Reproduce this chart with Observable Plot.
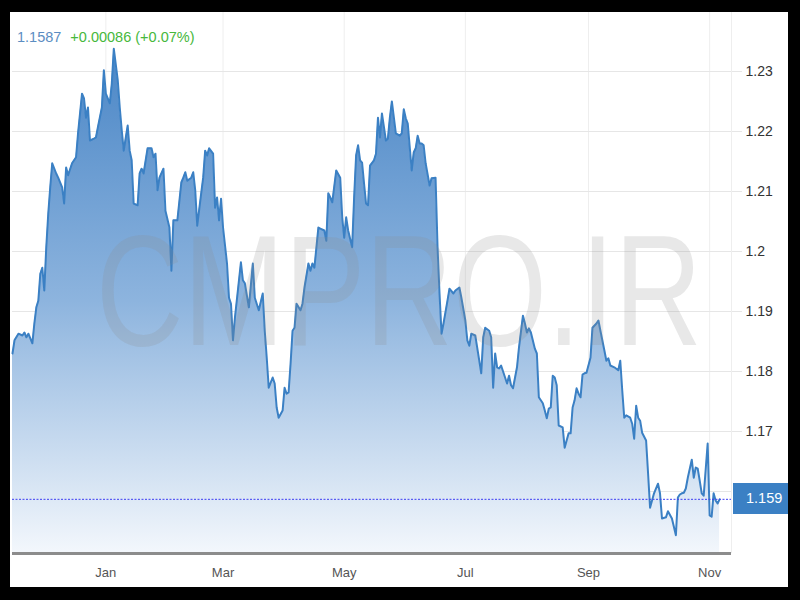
<!DOCTYPE html>
<html>
<head>
<meta charset="utf-8">
<script src="https://cdn.jsdelivr.net/npm/d3@7"></script>
<script src="https://cdn.jsdelivr.net/npm/@observablehq/plot@0.6"></script>
<style>
html, body { margin: 0; padding: 0; background: #000; }
#page { position: relative; width: 800px; height: 600px; background: #000; overflow: hidden; font-family: "Liberation Sans", Arial, sans-serif; }
#frame { position: absolute; left: 10px; top: 12px; width: 778px; height: 575px; background: #fff; overflow: hidden; }
#chart { position: absolute; left: 0; top: 0; }
#header { position: absolute; left: 7px; top: 16px; font-size: 14.5px; line-height: 18px; white-space: nowrap; }
#priceBox { position: absolute; left: 723px; width: 55px; height: 31px; background: #3b80c4; color: #fff; font-size: 14.5px; line-height: 31px; box-sizing: border-box; padding-left: 13px; }
#wm { position: absolute; left: 0; top: 0; pointer-events: none; }
</style>
</head>
<body>
<div id="page">
  <div id="frame">
    <div id="chart"></div>
    <svg id="wm" width="778" height="575"></svg>
    <div id="header"></div>
    <div id="priceBox"></div>
  </div>
</div>
<script>
// ---- data (EUR/USD, Nov 2020 – Nov 2021) ----
const dates = [
"2020-11-15","2020-11-16","2020-11-18","2020-11-20","2020-11-21","2020-11-22","2020-11-23","2020-11-25","2020-11-26","2020-11-27",
"2020-11-28","2020-11-29","2020-11-30","2020-12-01","2020-12-02","2020-12-03","2020-12-04","2020-12-05","2020-12-07","2020-12-08",
"2020-12-10","2020-12-11","2020-12-12","2020-12-13","2020-12-15","2020-12-17","2020-12-18","2020-12-20","2020-12-21","2020-12-22",
"2020-12-23","2020-12-24","2020-12-26","2020-12-27","2020-12-28","2020-12-30","2020-12-31","2021-01-01","2021-01-03","2021-01-04",
"2021-01-05","2021-01-07","2021-01-08","2021-01-09","2021-01-10","2021-01-12","2021-01-13","2021-01-14","2021-01-15","2021-01-17",
"2021-01-18","2021-01-19","2021-01-20","2021-01-22","2021-01-24","2021-01-25","2021-01-26","2021-01-27","2021-01-28","2021-01-30",
"2021-01-31","2021-02-02","2021-02-03","2021-02-04","2021-02-06","2021-02-08","2021-02-09","2021-02-10","2021-02-11","2021-02-13",
"2021-02-14","2021-02-15","2021-02-16","2021-02-18","2021-02-19","2021-02-20","2021-02-21","2021-02-22","2021-02-24","2021-02-25",
"2021-02-26","2021-02-27","2021-02-28","2021-03-01","2021-03-03","2021-03-04","2021-03-05","2021-03-06","2021-03-07","2021-03-10",
"2021-03-11","2021-03-12","2021-03-14","2021-03-16","2021-03-17","2021-03-19","2021-03-21","2021-03-22","2021-03-23","2021-03-24",
"2021-03-26","2021-03-27","2021-03-28","2021-03-29","2021-03-31","2021-04-01","2021-04-02","2021-04-03","2021-04-04","2021-04-05",
"2021-04-06","2021-04-07","2021-04-09","2021-04-10","2021-04-11","2021-04-13","2021-04-14","2021-04-15","2021-04-16","2021-04-18",
"2021-04-19","2021-04-21","2021-04-22","2021-04-23","2021-04-24","2021-04-25","2021-04-27","2021-04-29","2021-04-30","2021-05-01",
"2021-05-02","2021-05-03","2021-05-05","2021-05-06","2021-05-07","2021-05-08","2021-05-09","2021-05-10","2021-05-11","2021-05-12",
"2021-05-13","2021-05-14","2021-05-16","2021-05-17","2021-05-18","2021-05-19","2021-05-20","2021-05-22","2021-05-23","2021-05-24",
"2021-05-25","2021-05-27","2021-05-29","2021-05-30","2021-05-31","2021-06-01","2021-06-02","2021-06-04","2021-06-05","2021-06-06",
"2021-06-07","2021-06-08","2021-06-09","2021-06-10","2021-06-11","2021-06-13","2021-06-14","2021-06-16","2021-06-17","2021-06-18",
"2021-06-19","2021-06-20","2021-06-22","2021-06-23","2021-06-25","2021-06-26","2021-06-28","2021-06-29","2021-07-01","2021-07-02",
"2021-07-03","2021-07-04","2021-07-06","2021-07-08","2021-07-09","2021-07-10","2021-07-11","2021-07-13","2021-07-14","2021-07-15",
"2021-07-16","2021-07-17","2021-07-18","2021-07-19","2021-07-21","2021-07-22","2021-07-23","2021-07-24","2021-07-25","2021-07-27",
"2021-07-28","2021-07-30","2021-07-31","2021-08-01","2021-08-02","2021-08-03","2021-08-05","2021-08-06","2021-08-07","2021-08-09",
"2021-08-10","2021-08-11","2021-08-12","2021-08-13","2021-08-14","2021-08-15","2021-08-16","2021-08-17","2021-08-19","2021-08-20",
"2021-08-22","2021-08-23","2021-08-24","2021-08-25","2021-08-26","2021-08-27","2021-08-28","2021-08-29","2021-08-30","2021-08-31",
"2021-09-02","2021-09-03","2021-09-05","2021-09-06","2021-09-07","2021-09-09","2021-09-10","2021-09-11","2021-09-12","2021-09-14",
"2021-09-16","2021-09-17","2021-09-18","2021-09-19","2021-09-20","2021-09-22","2021-09-23","2021-09-24","2021-09-25","2021-09-26",
"2021-09-27","2021-09-28","2021-09-30","2021-10-01","2021-10-02","2021-10-04","2021-10-06","2021-10-07","2021-10-08","2021-10-10",
"2021-10-11","2021-10-13","2021-10-15","2021-10-16","2021-10-17","2021-10-18","2021-10-19","2021-10-20","2021-10-21","2021-10-23",
"2021-10-24","2021-10-25","2021-10-26","2021-10-27","2021-10-28","2021-10-29","2021-10-31","2021-11-01","2021-11-02","2021-11-03",
"2021-11-04","2021-11-05","2021-11-06"
];
const values = [
1.1830,1.1852,1.1863,1.1860,1.1865,1.1857,1.1863,1.1847,1.1880,1.1907,
1.1918,1.1963,1.1973,1.1935,1.2007,1.2063,1.2107,1.2147,1.2130,1.2123,
1.2107,1.2080,1.2140,1.2127,1.2147,1.2157,1.2197,1.2263,1.2255,1.2223,
1.2240,1.2185,1.2188,1.2190,1.2207,1.2240,1.2302,1.2263,1.2247,1.2280,
1.2338,1.2285,1.2240,1.2202,1.2168,1.2210,1.2168,1.2152,1.2080,1.2077,
1.2130,1.2138,1.2130,1.2172,1.2172,1.2157,1.2163,1.2102,1.2123,1.2138,
1.2068,1.2040,1.1968,1.2052,1.2052,1.2115,1.2123,1.2132,1.2118,1.2123,
1.2132,1.2102,1.2043,1.2097,1.2123,1.2168,1.2160,1.2172,1.2163,1.2073,
1.2090,1.2052,1.2088,1.2040,1.1980,1.1923,1.1913,1.1852,1.1890,1.1982,
1.1952,1.1947,1.1907,1.1980,1.1923,1.1902,1.1930,1.1868,1.1823,1.1773,
1.1790,1.1780,1.1740,1.1723,1.1735,1.1773,1.1763,1.1765,1.1813,1.1868,
1.1873,1.1913,1.1902,1.1913,1.1940,1.1980,1.1968,1.1980,1.1973,1.2040,
1.2038,1.2035,1.2018,1.2097,1.2090,1.2082,1.2135,1.2123,1.2057,1.2023,
1.2057,1.2035,1.2007,1.2090,1.2160,1.2177,1.2152,1.2148,1.2113,1.2080,
1.2077,1.2143,1.2152,1.2163,1.2223,1.2190,1.2230,1.2185,1.2188,1.2223,
1.2250,1.2197,1.2193,1.2197,1.2237,1.2222,1.2213,1.2135,1.2165,1.2172,
1.2193,1.2180,1.2180,1.2177,1.2147,1.2110,1.2122,1.2123,1.2007,1.1930,
1.1863,1.1880,1.1918,1.1938,1.1930,1.1935,1.1940,1.1923,1.1885,1.1852,
1.1843,1.1863,1.1860,1.1818,1.1797,1.1857,1.1873,1.1868,1.1857,1.1773,
1.1830,1.1807,1.1805,1.1810,1.1790,1.1780,1.1793,1.1777,1.1772,1.1807,
1.1840,1.1893,1.1880,1.1865,1.1872,1.1865,1.1838,1.1830,1.1757,1.1747,
1.1735,1.1722,1.1738,1.1740,1.1793,1.1790,1.1777,1.1710,1.1707,1.1673,
1.1697,1.1697,1.1740,1.1752,1.1772,1.1763,1.1757,1.1795,1.1797,1.1798,
1.1823,1.1873,1.1880,1.1885,1.1868,1.1835,1.1818,1.1822,1.1810,1.1807,
1.1802,1.1818,1.1768,1.1723,1.1727,1.1723,1.1713,1.1688,1.1743,1.1723,
1.1718,1.1698,1.1685,1.1630,1.1573,1.1597,1.1613,1.1597,1.1555,1.1557,
1.1567,1.1555,1.1527,1.1590,1.1595,1.1597,1.1598,1.1605,1.1623,1.1653,
1.1623,1.1640,1.1638,1.1618,1.1597,1.1593,1.1680,1.1560,1.1558,1.1597,
1.1585,1.1580,1.1587
];
const monthTicks = ["2021-01-01","2021-03-01","2021-05-01","2021-07-01","2021-09-01","2021-11-01"];
const yGridTicks = [1.16, 1.17, 1.18, 1.19, 1.20, 1.21, 1.22, 1.23];
const yLabelTicks = [1.17, 1.18, 1.19, 1.20, 1.21, 1.22, 1.23];
const xDomain = ["2020-11-15", "2021-11-12"];
const yDomain = [1.14967, 1.23983];
const lastPrice = 1.1587;
const lastPriceLabel = "1.159";
const headerPrice = "1.1587";
const headerChange = "+0.00086 (+0.07%)";
const watermarkText = "CMPRO.IR";

// ---- build ----
const parse = d3.utcParse("%Y-%m-%d");
const rows = dates.map((d, i) => ({date: parse(d), value: values[i]}));
const tickDates = monthTicks.map(parse);
const xDom = xDomain.map(parse);

function gradientDefs() {
  const ns = "http://www.w3.org/2000/svg";
  const defs = document.createElementNS(ns, "defs");
  defs.innerHTML =
    '<linearGradient id="areaGrad" x1="0" y1="0" x2="0" y2="1">' +
    '<stop offset="0" stop-color="#4a86c6"/>' +
    '<stop offset="0.5" stop-color="#8db4de"/>' +
    '<stop offset="1" stop-color="#f3f7fc"/>' +
    '</linearGradient>';
  return defs;
}

const chart = Plot.plot({
  width: 778,
  height: 575,
  marginLeft: 2,
  marginRight: 57,
  marginTop: 0,
  marginBottom: 34,
  x: {type: "utc", domain: xDom, label: null},
  y: {domain: yDomain, label: null},
  style: {fontFamily: "'Liberation Sans', Arial, sans-serif", fontSize: "13px", background: "transparent", overflow: "visible"},
  marks: [
    gradientDefs,
    Plot.gridX(tickDates, {stroke: "#eeeeee", strokeOpacity: 1}),
    Plot.ruleX([xDom[1]], {stroke: "#eeeeee"}),
    Plot.gridY(yGridTicks, {stroke: "#e6e6e6", strokeOpacity: 1}),
    Plot.areaY(rows, {x: "date", y1: yDomain[0], y2: "value", fill: "url(#areaGrad)"}),
    Plot.lineY(rows, {x: "date", y: "value", stroke: "#3b80c4", strokeWidth: 2, strokeLinejoin: "round"}),
    Plot.ruleY([lastPrice], {stroke: "#3d3df2", strokeWidth: 1, strokeDasharray: "2,1.5"}),
    Plot.ruleY([yDomain[0]], {stroke: "#8c8c8c", strokeWidth: 3}),
    Plot.axisX(tickDates, {label: null, tickSize: 0, tickPadding: 14, tickFormat: d3.utcFormat("%b"), fill: "#555", fontSize: 13}),
    Plot.axisY(yLabelTicks, {label: null, anchor: "right", tickSize: 10, tickPadding: 4, stroke: "#e6e6e6", fill: "#333", fontSize: 14,
      tickFormat: d => String(+d.toFixed(2))})
  ]
});
document.getElementById("chart").appendChild(chart);

// watermark (horizontally condensed via transform)
const wm = document.getElementById("wm");
const sx = 0.767;
wm.innerHTML = '<text transform="scale(' + sx + ',1)" x="' + (86 / sx) + '" y="333" font-size="158" ' +
  'font-family="Liberation Sans, Arial, sans-serif" fill="rgba(140,140,140,0.2)">' + watermarkText + '</text>';

// header
document.getElementById("header").innerHTML =
  '<span style="color:#5b8dc2">' + headerPrice + '</span>' +
  '<span style="color:#47b83c;margin-left:9px">' + headerChange + '</span>';

// current price box positioned through the y scale
const yc = chart.scale("y").apply(lastPrice);
const box = document.getElementById("priceBox");
box.style.top = (yc - 15.5) + "px";
box.textContent = lastPriceLabel;
</script>
</body>
</html>
